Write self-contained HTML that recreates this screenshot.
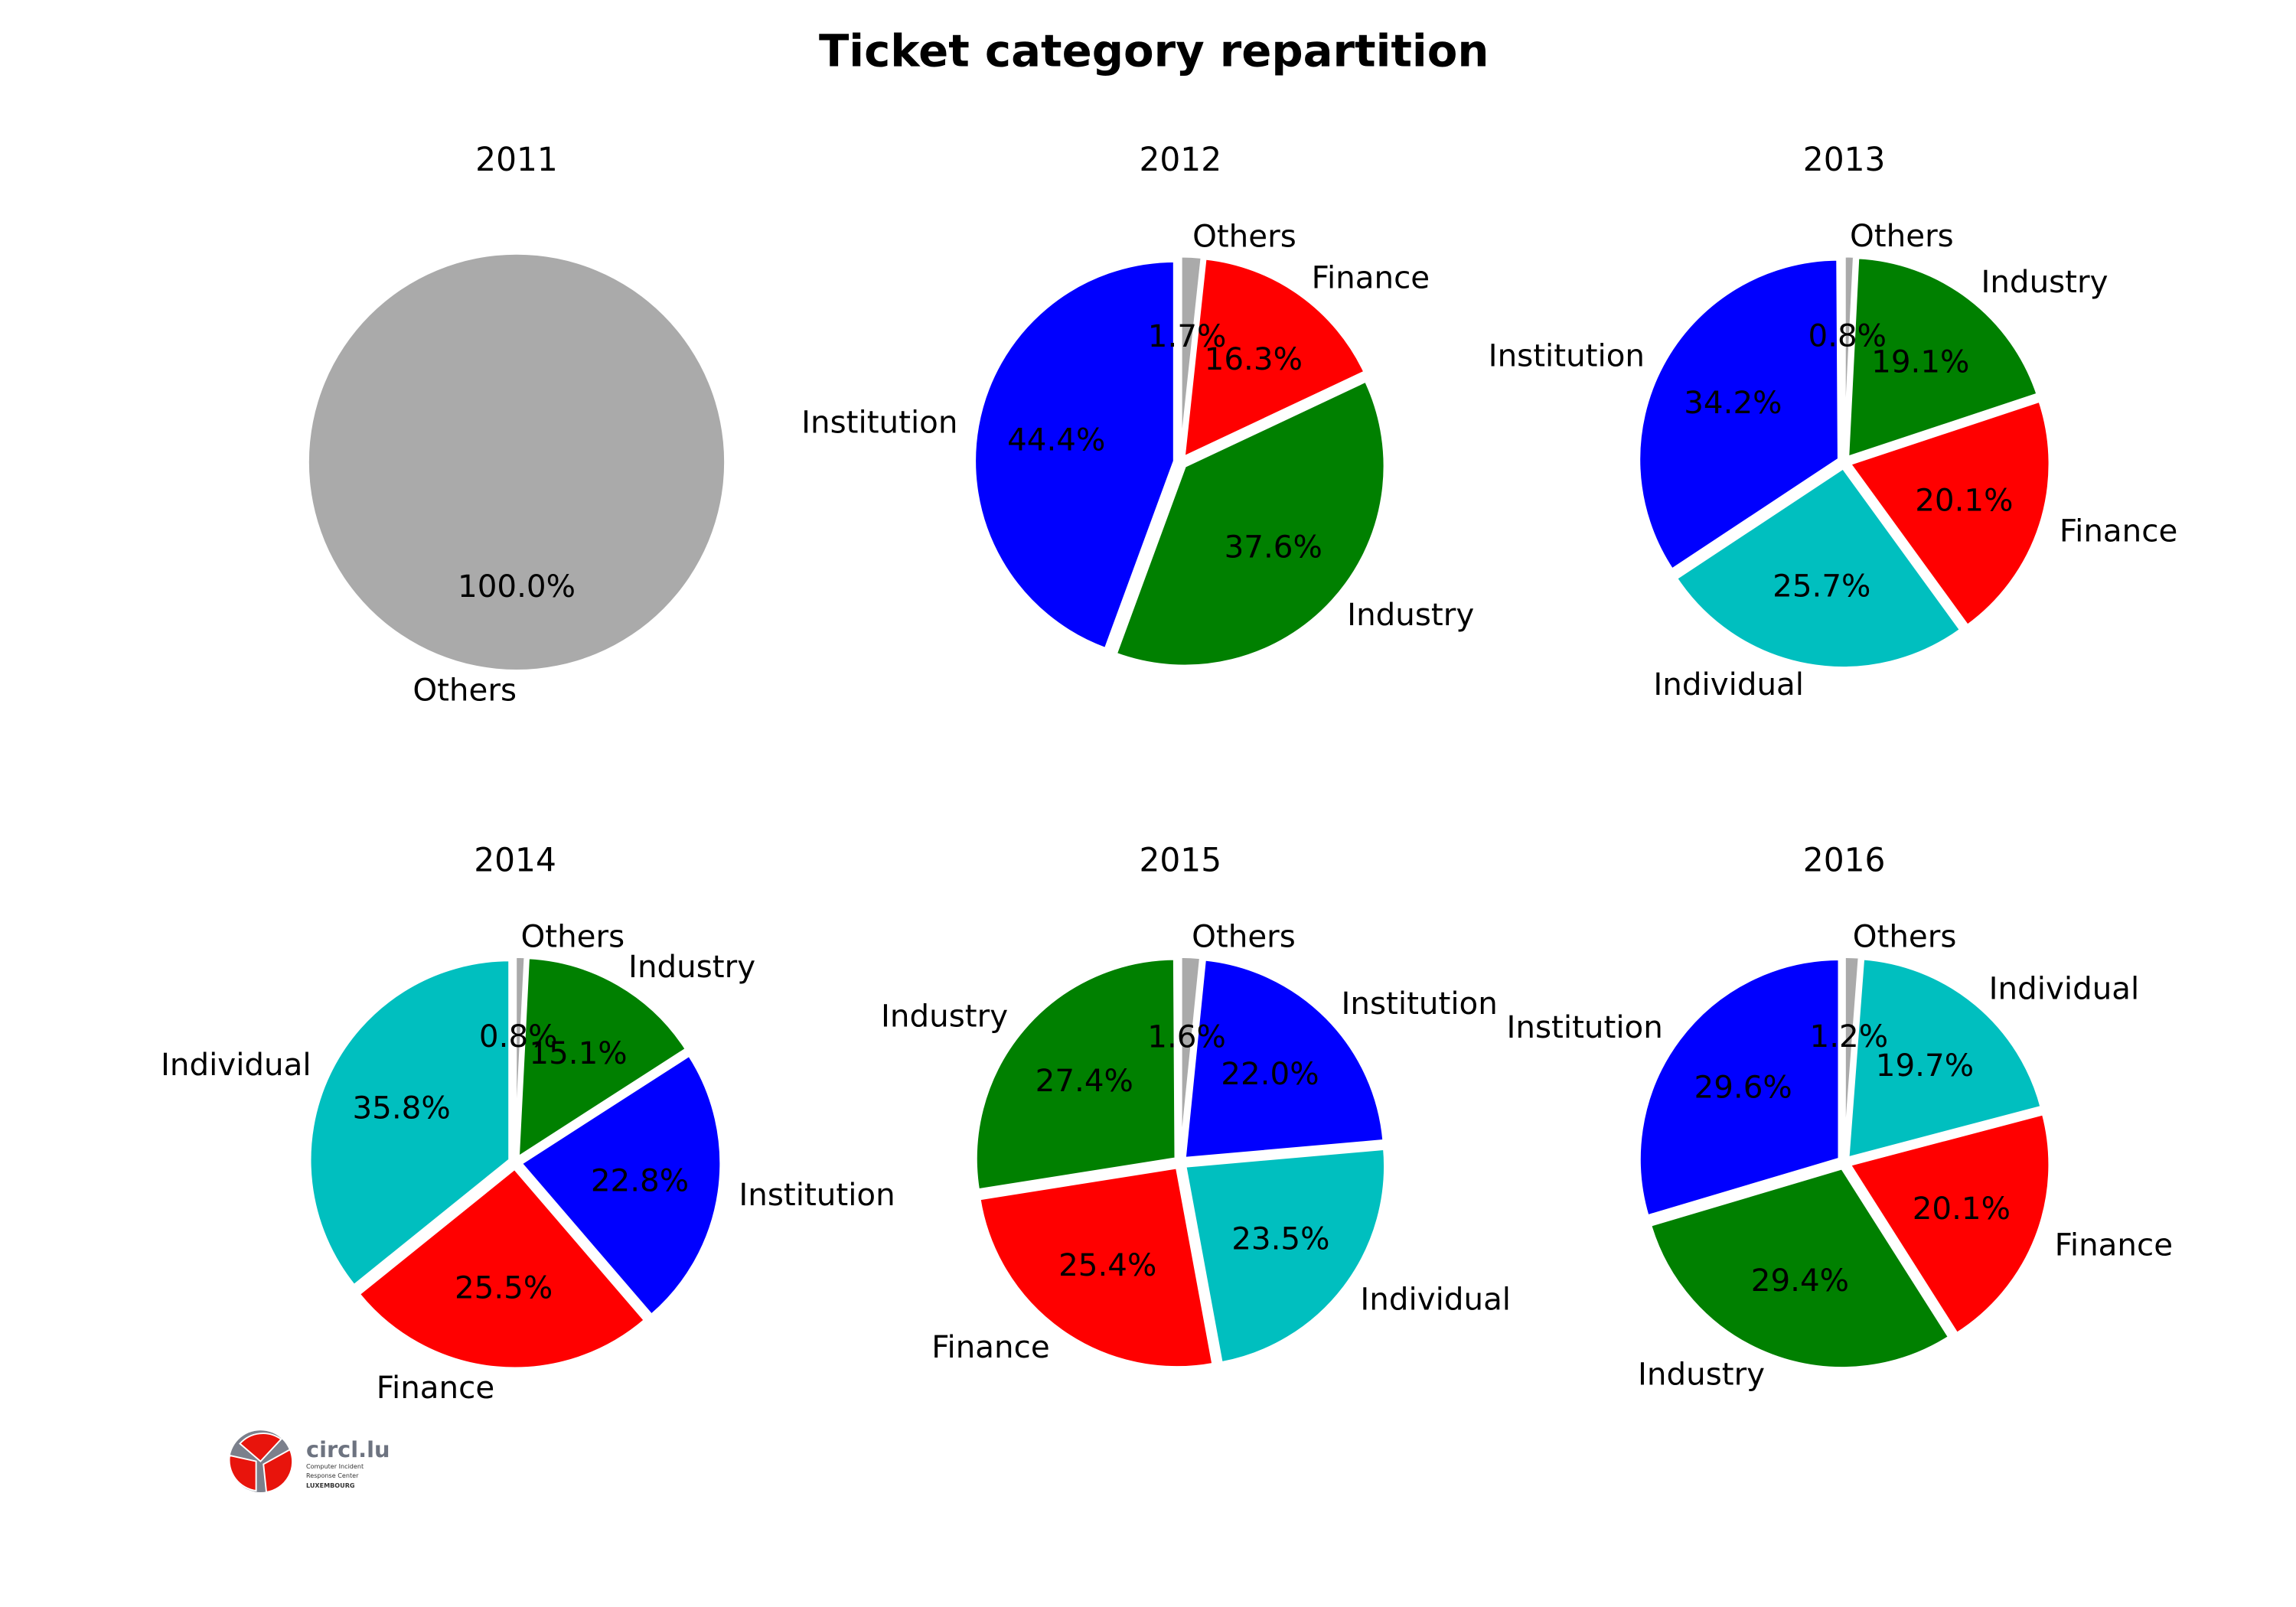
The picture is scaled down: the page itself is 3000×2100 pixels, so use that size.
<!DOCTYPE html>
<html><head><meta charset="utf-8"><style>
html,body{margin:0;padding:0;background:#fff;}
svg{display:block;}
text{font-family:"DejaVu Sans","Liberation Sans",sans-serif;}
</style></head><body>
<svg id="s" width="3000" height="2100" viewBox="0 0 1560 1092" preserveAspectRatio="none" xmlns="http://www.w3.org/2000/svg">
<rect width="1560" height="1092" fill="#fff"/>
<text x="784" y="45" font-size="30" font-weight="bold" text-anchor="middle">Ticket category repartition</text>
<g id="pies"></g>
<g transform="translate(177,993)">
 <circle r="21" fill="#7b808c"/>
 <path d="M0,0 L-14,-12 A21,21 0 0 1 14,-15 Z" fill="#e8140c" stroke="#fff" stroke-width="1"/>
 <path d="M-3,0 L-3,20 A21,21 0 0 1 -21,-4 Z" fill="#e8140c" stroke="#fff" stroke-width="1"/>
 <path d="M2,2 L20,-8 A21,21 0 0 1 4,21 Z" fill="#e8140c" stroke="#fff" stroke-width="1"/>
</g>
<text x="208" y="990" font-size="15" font-weight="bold" fill="#6d7380">circl.lu</text>
<text x="208" y="998" font-size="4.2" fill="#333">Computer Incident</text>
<text x="208" y="1004" font-size="4.2" fill="#333">Response Center</text>
<text x="208" y="1011" font-size="4.2" font-weight="bold" fill="#333">LUXEMBOURG</text>
</svg>
<script>
var C={Others:"#aaaaaa",Finance:"#ff0000",Industry:"#008000",Institution:"#0000ff",Individual:"#00bfbf"};
var pies=[
 [351,314,"2011",[["Others",100]]],
 [802,314,"2012",[["Others",1.7],["Finance",16.3],["Industry",37.6],["Institution",44.4]]],
 [1253,314,"2013",[["Others",0.8],["Industry",19.1],["Finance",20.1],["Individual",25.7],["Institution",34.2]]],
 [350,790,"2014",[["Others",0.8],["Industry",15.1],["Institution",22.8],["Finance",25.5],["Individual",35.8]]],
 [802,790,"2015",[["Others",1.6],["Institution",22.0],["Individual",23.5],["Finance",25.4],["Industry",27.4]]],
 [1253,790,"2016",[["Others",1.2],["Individual",19.7],["Finance",20.1],["Industry",29.4],["Institution",29.6]]]
];
var g=document.getElementById("pies"),NS="http://www.w3.org/2000/svg",R=136,EX=4;
function el(t,a,txt){var e=document.createElementNS(NS,t);for(var k in a)e.setAttribute(k,a[k]);if(txt)e.textContent=txt;g.appendChild(e);return e;}
pies.forEach(function(p){
 var cx=p[0],cy=p[1];
 el("text",{x:cx,y:cy-198,"font-size":22,"text-anchor":"middle"},p[2]);
 var a=90;
 p[3].forEach(function(w){
  var sw=w[1]*3.6,a1=a,a2=a-sw,m=(a1+a2)/2,mr=m*Math.PI/180;
  var ex=p[3].length>1?EX:0;
  var ox=cx+ex*Math.cos(mr),oy=cy-ex*Math.sin(mr);
  if(w[1]>=100){el("circle",{cx:ox,cy:oy,r:R+5,fill:C[w[0]]});}
  else{
   var r1=a1*Math.PI/180,r2=a2*Math.PI/180;
   var d="M"+ox+","+oy+" L"+(ox+R*Math.cos(r1))+","+(oy-R*Math.sin(r1))+" A"+R+","+R+" 0 "+(sw>180?1:0)+" 1 "+(ox+R*Math.cos(r2))+","+(oy-R*Math.sin(r2))+" Z";
   el("path",{d:d,fill:C[w[0]],stroke:"#fff","stroke-width":2,"stroke-linejoin":"round"});
  }
  w.push(ox,oy,mr);
  a=a2;
 });
 p[3].forEach(function(w){
  var ox=w[2],oy=w[3],mr=w[4],Rr=(w[1]>=100?R+5:R);
  var lx=ox+1.1*Rr*Math.cos(mr),ly=oy-1.1*Rr*Math.sin(mr);
  el("text",{x:lx,y:ly+7,"font-size":21,"text-anchor":(Math.cos(mr)>1e-6?"start":"end")},w[0]);
  var px=ox+0.6*Rr*Math.cos(mr),py=oy-0.6*Rr*Math.sin(mr);
  el("text",{x:px,y:py+7,"font-size":21,"text-anchor":"middle"},w[1].toFixed(1)+"%");
 });
});
</script>
</body></html>
